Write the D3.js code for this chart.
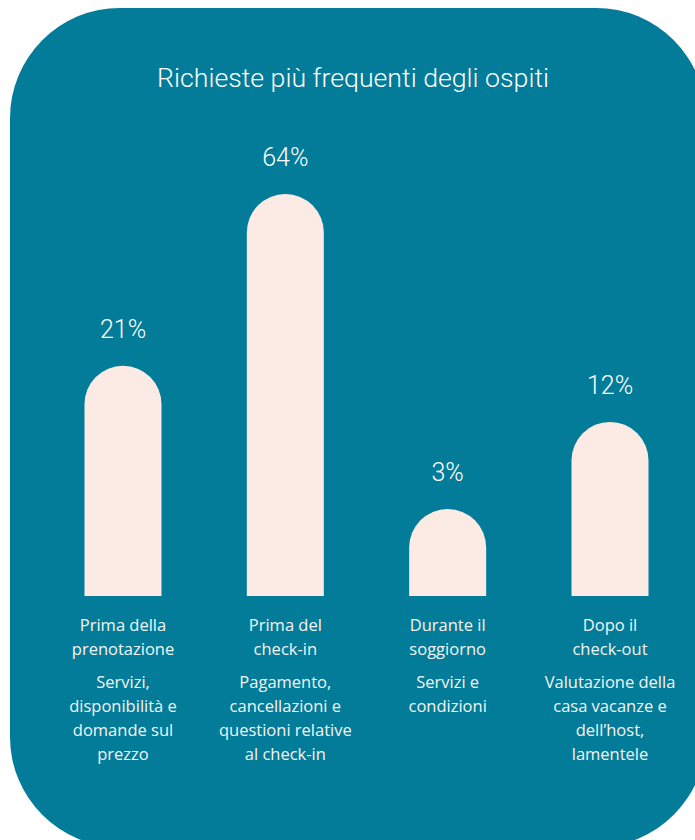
<!DOCTYPE html>
<html>
<head>
<meta charset="utf-8">
<script src="https://cdn.jsdelivr.net/npm/d3@7"></script>
<style>
  html, body { margin: 0; padding: 0; background: #ffffff; }
  svg { display: block; }
  .title { font-family: Roboto, "Open Sans", sans-serif; font-weight: 300; fill: #ffffff; }
  .value { font-family: Roboto, "Open Sans", sans-serif; font-weight: 300; fill: #ffffff; }
  .label { font-family: "Open Sans", Roboto, sans-serif; fill: #f4f4f4; }
</style>
</head>
<body>
<svg id="chart"></svg>
<script>
// dati
var title = 'Richieste più frequenti degli ospiti';
var phases = ['Prima della prenotazione', 'Prima del check-in', 'Durante il soggiorno', 'Dopo il check-out'];
var shares = [21, 64, 3, 12];
var phaseLines = [
    ['Prima della', 'prenotazione'],
    ['Prima del', 'check-in'],
    ['Durante il', 'soggiorno'],
    ['Dopo il', 'check-out']
];
var topicLines = [
    ['Servizi,', 'disponibilità e', 'domande sul', 'prezzo'],
    ['Pagamento,', 'cancellazioni e', 'questioni relative', 'al check-in'],
    ['Servizi e', 'condizioni'],
    ['Valutazione della', 'casa vacanze e', 'dell\u2019host,', 'lamentele']
];

(function () {
    'use strict';

    var width = 695,
        height = 840,
        baseline = 596,
        barWidth = 77,
        teal = '#027c98',
        cream = '#fcebe5';

    var svg = d3.select('#chart')
        .attr('width', width)
        .attr('height', height);

    // sfondo arrotondato
    svg.append('rect')
        .attr('x', 10)
        .attr('y', 8)
        .attr('width', 696)
        .attr('height', 839)
        .attr('rx', 110)
        .attr('ry', 110)
        .attr('fill', teal);

    svg.append('text')
        .attr('class', 'title')
        .attr('x', 353)
        .attr('y', 87)
        .attr('text-anchor', 'middle')
        .attr('font-size', 25)
        .attr('textLength', 392)
        .attr('lengthAdjust', 'spacingAndGlyphs')
        .text(title);

    var x = d3.scalePoint()
        .domain(phases)
        .range([123, 610]);

    var h = d3.scaleSqrt()
        .domain([0, 64])
        .range([0, 402]);

    var data = phases.map(function (p, i) {
        return { phase: p, value: shares[i], phaseLines: phaseLines[i], topicLines: topicLines[i] };
    });

    // barre con la cima a semicerchio
    var r = barWidth / 2;
    svg.selectAll('.bar')
        .data(data)
        .enter()
        .append('path')
        .attr('class', 'bar')
        .attr('fill', cream)
        .attr('d', function (d) {
            var cx = x(d.phase),
                top = baseline - h(d.value);
            return 'M' + (cx - r) + ',' + baseline
                + 'V' + (top + r)
                + 'A' + r + ',' + r + ' 0 0 1 ' + (cx + r) + ',' + (top + r)
                + 'V' + baseline + 'Z';
        });

    svg.selectAll('.value')
        .data(data)
        .enter()
        .append('text')
        .attr('class', 'value')
        .attr('x', function (d) { return x(d.phase); })
        .attr('y', function (d) { return baseline - h(d.value) - 28; })
        .attr('text-anchor', 'middle')
        .attr('font-size', 25)
        .text(function (d) { return d.value + '%'; });

    var col = svg.selectAll('.col')
        .data(data)
        .enter()
        .append('g')
        .attr('class', 'col')
        .attr('transform', function (d) { return 'translate(' + x(d.phase) + ',0)'; });

    col.selectAll('.phase')
        .data(function (d) { return d.phaseLines; })
        .enter()
        .append('text')
        .attr('class', 'label phase')
        .attr('x', 0)
        .attr('y', function (d, i) { return 631 + i * 24; })
        .attr('text-anchor', 'middle')
        .attr('font-size', 16.5)
        .text(function (d) { return d; });

    col.selectAll('.topic')
        .data(function (d) { return d.topicLines; })
        .enter()
        .append('text')
        .attr('class', 'label topic')
        .attr('x', 0)
        .attr('y', function (d, i) { return 688 + i * 24; })
        .attr('text-anchor', 'middle')
        .attr('font-size', 16.5)
        .text(function (d) { return d; });
})();
</script>
</body>
</html>
